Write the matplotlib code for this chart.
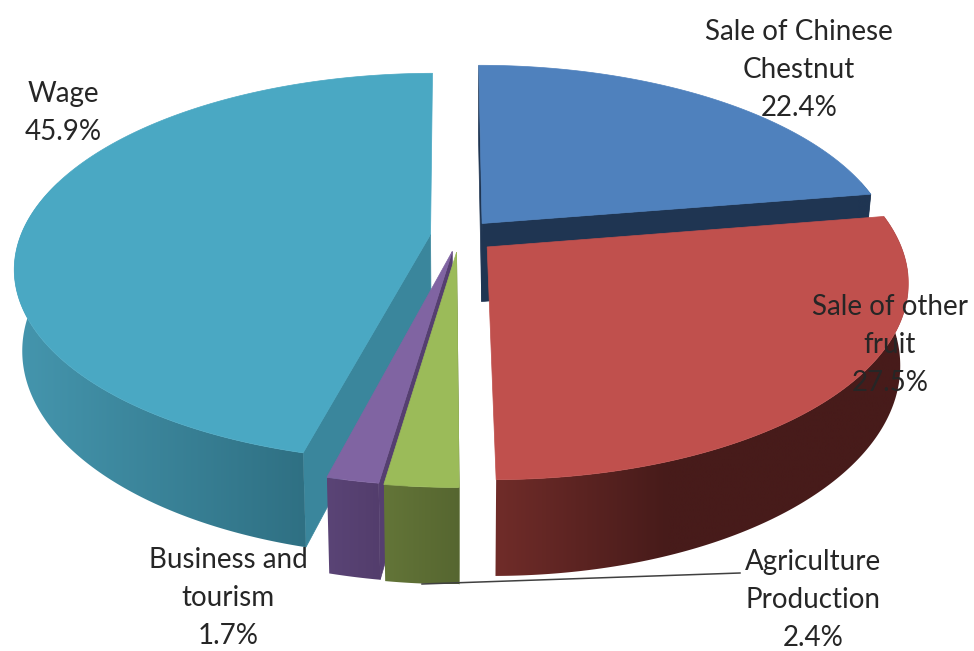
import numpy as np
import matplotlib
matplotlib.use("Agg")
import matplotlib.pyplot as plt
from matplotlib.colors import to_rgb
from matplotlib.patches import Polygon

categories = ["Sale of Chinese\nChestnut", "Sale of other\nfruit", "Agriculture\nProduction", "Business and\ntourism", "Wage"]
shares = [22.4, 27.5, 2.4, 1.7, 45.9]
top_colors = ["#4f81bd", "#c0504d", "#9bbb59", "#8064a2", "#4aa8c3"]
cut_colors = ["#1f3552", "#6b2a28", "#5f7035", "#553f70", "#3a869c"]
wall_left = ["#1f3552", "#702c29", "#637538", "#5a4476", "#4596ae"]
wall_right = ["#1f3552", "#471b1a", "#566630", "#533d6c", "#2f7083"]
explode = [0.088, 0.089, 0.085, 0.082, 0.07]
cut_faces = [(0, 1), (), (0,), (0,), (0,)]
label_xy = [(799, 70), (890, 345), (813, 600), (228, 598), (63, 113)]

CX, CY, RX, RY, P, DEPTH, SHRINK = 459, 236, 410, 189, 0.17, 79, 0.018

fig = plt.figure(figsize=(9.74, 6.51), dpi=100)
ax = fig.add_axes([0, 0, 1, 1])
ax.axis("off")


def project(x, y, z=0.0):
    x = np.asarray(x, float)
    y = np.asarray(y, float)
    z = np.asarray(z, float)
    s = 1.0 / (1.0 + P * y)
    return CX + RX * x * s * (1 - SHRINK * z / DEPTH), CY - RY * y * s + z * s


edges = np.concatenate([[0], np.cumsum(shares)]) / 100 * 2 * np.pi


def paint(i, z0):
    a0, a1 = edges[i], edges[i + 1]
    mid = (a0 + a1) / 2
    ox, oy = explode[i] * np.sin(mid), explode[i] * np.cos(mid)
    th = np.linspace(a0, a1, 300)
    rx, ry = ox + np.sin(th), oy + np.cos(th)

    for end in cut_faces[i]:
        xe, ye = (rx[0], ry[0]) if end == 0 else (rx[-1], ry[-1])
        px, py = project([ox, xe, xe, ox], [oy, ye, ye, oy], [0, 0, DEPTH, DEPTH])
        ax.add_patch(Polygon(np.c_[px, py], closed=True, fc=cut_colors[i], ec=cut_colors[i], lw=0.5, zorder=z0))

    tx, ty = project(rx, ry)
    bx, by = project(rx, ry, DEPTH)
    # outer wall: smooth horizontal gradient clipped to the front part of the rim
    front = ry < 0.3
    if front.sum() > 1:
        outline = np.vstack([np.c_[tx[front], ty[front]], np.c_[bx[front], by[front]][::-1]])
        clip = Polygon(outline, closed=True, fc="none", ec="none", transform=ax.transData)
        ax.add_patch(clip)
        c0, c1 = np.array(to_rgb(wall_left[i])), np.array(to_rgb(wall_right[i]))
        steps = 256
        f = np.linspace(0, 1, steps)
        if i == 1:
            f = np.minimum(1, f * 2.4)
        grad = (c0[None, :] + (c1 - c0)[None, :] * f[:, None])[None, :, :]
        xmin, xmax = outline[:, 0].min(), outline[:, 0].max()
        ymin, ymax = outline[:, 1].min(), outline[:, 1].max()
        im = ax.imshow(grad, extent=(xmin, xmax, ymax, ymin), aspect="auto", zorder=z0 + 0.1, interpolation="bilinear")
        im.set_clip_path(clip)

    ax0, ay0 = project(ox, oy)
    pts = np.vstack([[float(ax0), float(ay0)], np.c_[tx, ty]])
    ax.add_patch(Polygon(pts, closed=True, fc=top_colors[i], ec=top_colors[i], lw=0.5, zorder=z0 + 0.5))


for z0, i in enumerate([0, 4, 1, 3, 2], start=1):
    paint(i, z0)

ax.set_xlim(0, 974)
ax.set_ylim(651, 0)

ax.plot([422, 740], [584, 573], color="#404040", lw=1.1, zorder=8)

for lab, share, (x, y) in zip(categories, shares, label_xy):
    ax.text(x, y, f"{lab}\n{share}%", ha="center", va="center", fontsize=20,
            family="Lato", color="#262626", linespacing=1.55, zorder=10)

fig.savefig("out.png", dpi=100, facecolor="white")
